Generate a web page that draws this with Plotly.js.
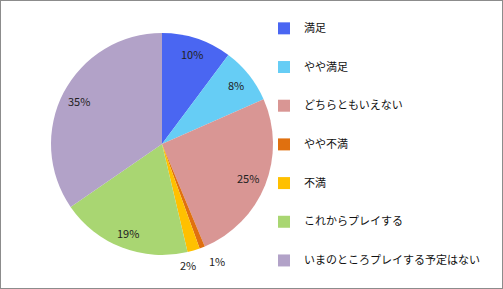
<!DOCTYPE html>
<html><head><meta charset="utf-8">
<script src="https://cdn.plot.ly/plotly-3.0.1.min.js"></script>
<style>
html,body{margin:0;padding:0;background:#fff;}
#wrap{width:503px;height:289px;box-sizing:border-box;border:1px solid #8c8c8c;overflow:hidden;}
#chart{width:501px;height:287px;}
</style></head>
<body><div id="wrap"><div id="chart"></div></div>
<script>
const categories = ["満足","やや満足","どちらともいえない","やや不満","不満","これからプレイする","いまのところプレイする予定はない"];
const values = [10.2, 8.2, 25.3, 0.8, 1.8, 19.1, 34.6];
const colors = ["#4a66f2","#66cdf5","#d99694","#e0700f","#ffc000","#a9d672","#b2a2c8"];
const labelRadius = [0.85, 0.85, 0.83, 1.13, 1.14, 0.86, 0.84];
const labelAnchor = ["center","center","center","left","right","center","center"];

const W = 501, H = 287;
const domX = [50/W, 272/W], domY = [33/H, 255/H];

const legendLabels = categories.map(c => "&#160;<br><span style='font-size:11px'>" + c + "</span><br>&#160;");

const trace = {
  type: "pie",
  labels: legendLabels,
  values: values,
  sort: false,
  direction: "clockwise",
  rotation: 0,
  marker: {colors: colors, line: {width: 0}},
  textinfo: "none",
  hoverinfo: "none",
  automargin: false,
  domain: {x: domX, y: domY}
};

// percentage labels placed along each slice's mid angle (derived from the values)
const total = values.reduce((a, b) => a + b, 0);
const cx = (domX[0] + domX[1]) / 2 * W;
const cy = (domY[0] + domY[1]) / 2 * H;
const R = (domX[1] - domX[0]) * W / 2;
let cum = 0;
const annotations = values.map((v, i) => {
  const mid = (cum + v / 2) / total * 2 * Math.PI;
  cum += v;
  const r = R * labelRadius[i];
  return {
    xref: "paper", yref: "paper",
    x: (cx + r * Math.sin(mid)) / W,
    y: (cy + r * Math.cos(mid)) / H,
    text: Math.round(v / total * 100) + "%",
    showarrow: false,
    xanchor: labelAnchor[i], yanchor: "middle",
    font: {family: "Noto Sans CJK JP, sans-serif", size: 11, color: "#222"}
  };
});

const layout = {
  width: W, height: H,
  margin: {l: 0, r: 0, t: 0, b: 0},
  paper_bgcolor: "#fff",
  showlegend: true,
  annotations: annotations,
  legend: {
    x: 0.525, y: 1 - 3/H, xanchor: "left", yanchor: "top",
    bgcolor: "rgba(0,0,0,0)",
    font: {family: "Noto Sans CJK JP, sans-serif", size: 9.15, color: "#111"},
    itemwidth: 30, traceorder: "normal"
  }
};
Plotly.newPlot("chart", [trace], layout, {staticPlot: true, displayModeBar: false});
</script></body></html>
